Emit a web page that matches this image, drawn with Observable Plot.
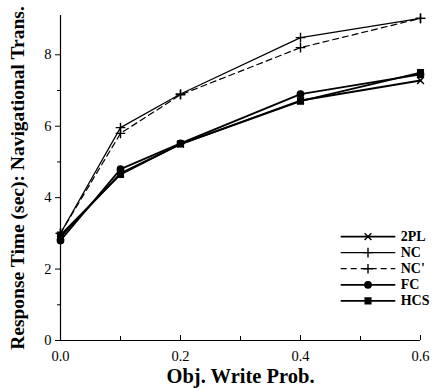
<!DOCTYPE html>
<html><head><meta charset="utf-8">
<script src="https://cdn.jsdelivr.net/npm/d3@7"></script>
<script src="https://cdn.jsdelivr.net/npm/@observablehq/plot@0.6"></script>
<style>body{margin:0;background:#fff}</style>
</head><body><div id="chart"></div>
<script>
const writeProb = [0, 0.1, 0.2, 0.4, 0.6];
const series = ["2PL", "NC", "NC'", "FC", "HCS"];
const v2PL  = [2.9, 4.68, 5.5, 6.72, 7.28];
const vNC   = [3.0, 5.96, 6.9, 8.48, 9.02];
const vNCp  = [3.0, 5.8, 6.88, 8.2, 9.02];
const vFC   = [2.8, 4.8, 5.52, 6.9, 7.45];
const vHCS  = [2.95, 4.65, 5.5, 6.7, 7.5];
const xMajor = [0, 0.2, 0.4, 0.6];
const xMinor = [0.1, 0.3, 0.5];
const yMajor = [0, 2, 4, 6, 8];
const yMinor = [1, 3, 5, 7];

const style = {
  "2PL": {symbol: "times", sw: 1.8, dash: null, fill: "none"},
  "NC":  {symbol: "plus", sw: 1.2, dash: null, fill: "none"},
  "NC'": {symbol: "plus", sw: 1.2, dash: "6,4", fill: "none"},
  "FC":  {symbol: "circle", sw: 1.8, dash: null, fill: "black"},
  "HCS": {symbol: "square", sw: 1.8, dash: null, fill: "black"}
};
const values = {"2PL": v2PL, "NC": vNC, "NC'": vNCp, "FC": vFC, "HCS": vHCS};
const rows = series.flatMap(s => writeProb.map((x, i) => ({s, x, y: values[s][i]})));

// legend placed in data space
const legX1 = 0.467, legX2 = 0.558, legXm = (legX1 + legX2) / 2, legXt = 0.567;
const legRows = series.map((s, i) => ({s, y: 2.91 - i * 0.45}));

const marks = [
  Plot.ruleX([0], {stroke: "black", strokeWidth: 1.2}),
  Plot.ruleY([0], {stroke: "black", strokeWidth: 1.2}),
  Plot.axisY({ticks: yMajor, tickSize: 5, tickPadding: 4, tickFormat: d3.format("d"), label: null, fontSize: 14.5}),
  Plot.axisY({ticks: yMinor, tickSize: 3, text: null, label: null}),
  Plot.axisX({ticks: xMajor, tickSize: -5, text: null, label: null}),
  Plot.axisX({ticks: xMinor, tickSize: -4, text: null, label: null}),
  Plot.axisX({ticks: xMajor, tickSize: 0, tickPadding: 10, tickFormat: d3.format(".1f"), label: null, fontSize: 14.5})
];
for (const s of series) {
  const st = style[s];
  const d = rows.filter(r => r.s === s);
  marks.push(Plot.line(d, {x: "x", y: "y", stroke: "black", strokeWidth: st.sw, strokeDasharray: st.dash}));
  marks.push(Plot.dot(d, {x: "x", y: "y", symbol: () => st.symbol, r: 3.2, stroke: "black", fill: st.fill, strokeWidth: 1.4}));
  const lr = legRows.filter(r => r.s === s);
  marks.push(Plot.link(lr, {x1: () => legX1, x2: () => legX2, y1: "y", y2: "y", stroke: "black", strokeWidth: st.sw, strokeDasharray: st.dash}));
  marks.push(Plot.dot(lr, {x: () => legXm, y: "y", symbol: () => st.symbol, r: 3.2, stroke: "black", fill: st.fill, strokeWidth: 1.4}));
  marks.push(Plot.text(lr, {x: () => legXt, y: "y", text: "s", textAnchor: "start", fontSize: 14, fontWeight: "bold"}));
}
marks.push(Plot.text(["Obj. Write Prob."], {frameAnchor: "bottom", dy: 42, text: d => d, fontSize: 20.5, fontWeight: "bold"}));
marks.push(Plot.text(["Response Time (sec): Navigational Trans."], {frameAnchor: "left", textAnchor: "middle", dx: -43, rotate: -90, text: d => d, fontSize: 19.5, fontWeight: "bold"}));

const chart = Plot.plot({
  width: 436, height: 389,
  marginLeft: 60, marginRight: 16, marginTop: 15, marginBottom: 49,
  x: {domain: [0, 0.6]},
  y: {domain: [0, 9.1]},
  style: {fontFamily: "'Liberation Serif', 'Times New Roman', serif", fontSize: "13px", color: "black", background: "white", overflow: "visible"},
  marks
});
document.getElementById("chart").appendChild(chart);
</script>
</body></html>
